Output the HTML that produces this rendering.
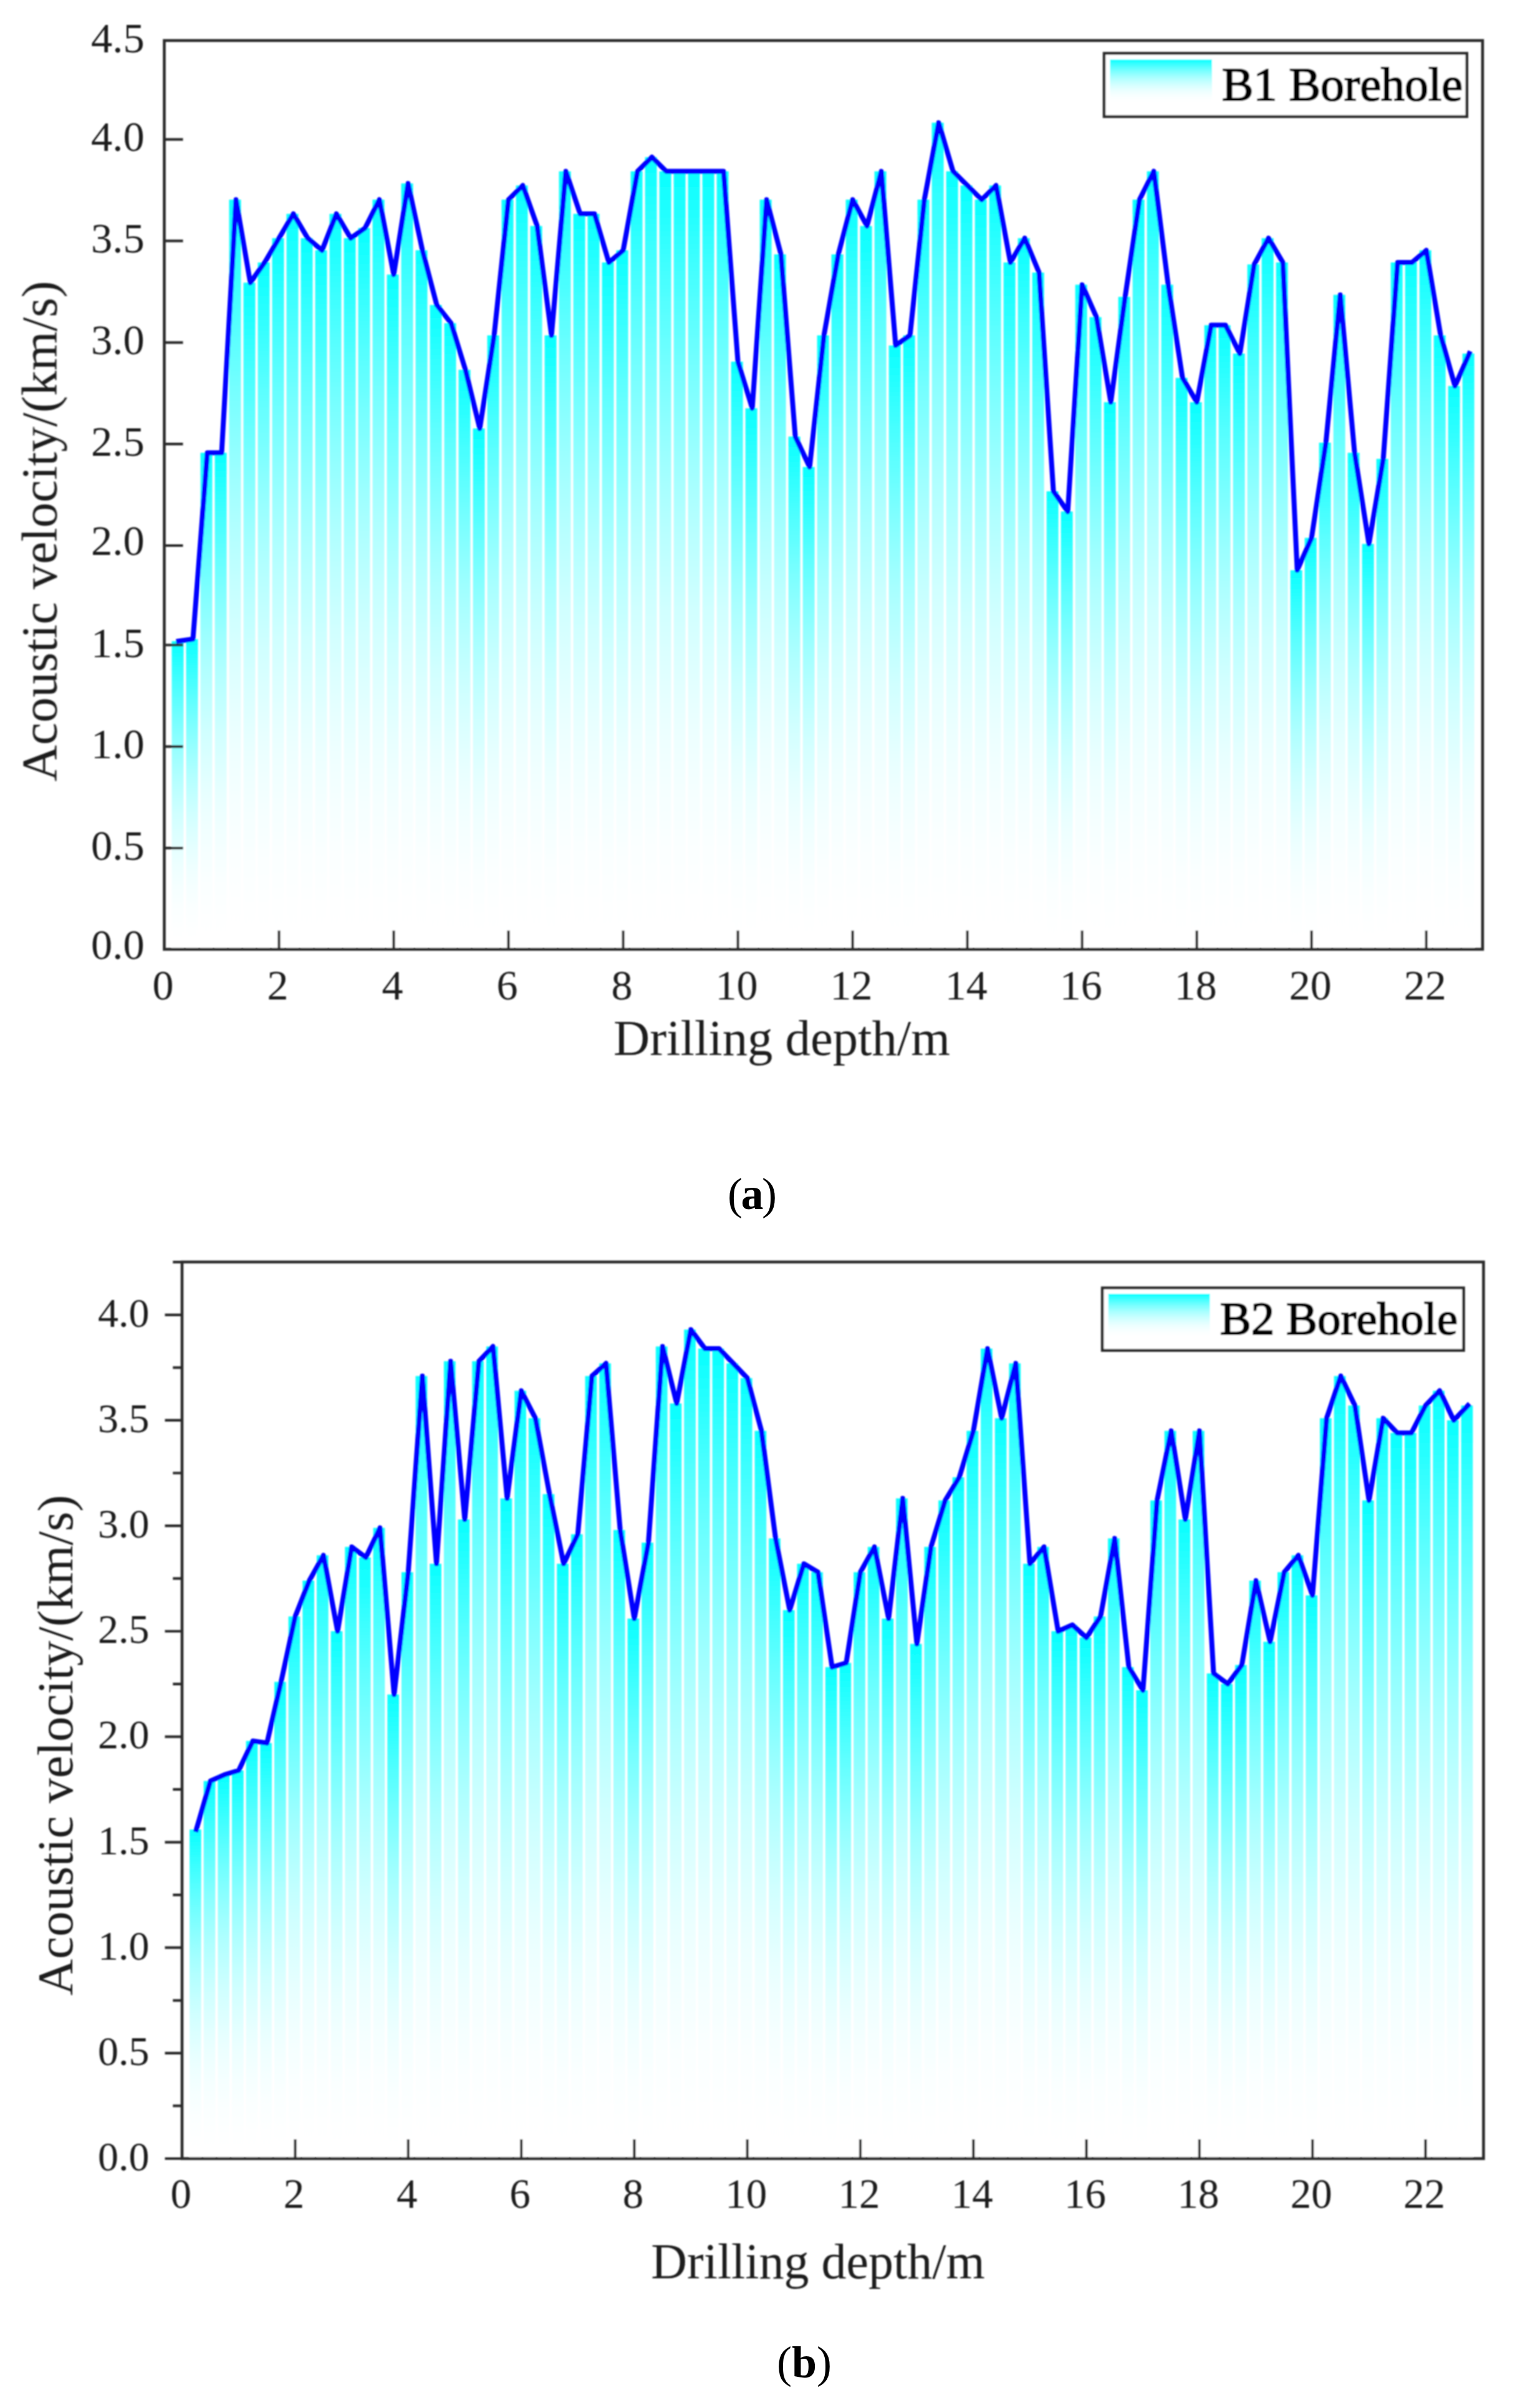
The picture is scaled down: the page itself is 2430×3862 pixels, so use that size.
<!DOCTYPE html>
<html lang="en">
<head>
<meta charset="utf-8">
<title>Acoustic velocity versus drilling depth</title>
<style>
html,body{margin:0;padding:0;background:#fff;}
body{width:2430px;height:3862px;overflow:hidden;}
svg{display:block;}
</style>
</head>
<body>
<svg width="2430" height="3862" viewBox="0 0 2430 3862">
<defs><linearGradient id="g" x1="0" y1="0" x2="0" y2="1"><stop offset="0.0000" stop-color="#08ffff"/><stop offset="0.0625" stop-color="#26ffff"/><stop offset="0.1250" stop-color="#42ffff"/><stop offset="0.1875" stop-color="#5cffff"/><stop offset="0.2500" stop-color="#74ffff"/><stop offset="0.3125" stop-color="#8affff"/><stop offset="0.3750" stop-color="#9fffff"/><stop offset="0.4375" stop-color="#b1ffff"/><stop offset="0.5000" stop-color="#c1ffff"/><stop offset="0.5625" stop-color="#d0ffff"/><stop offset="0.6250" stop-color="#dcffff"/><stop offset="0.6875" stop-color="#e7ffff"/><stop offset="0.7500" stop-color="#f0ffff"/><stop offset="0.8125" stop-color="#f6ffff"/><stop offset="0.8750" stop-color="#fbffff"/><stop offset="0.9375" stop-color="#feffff"/><stop offset="1.0000" stop-color="#ffffff"/></linearGradient><filter id="soft" x="-1%" y="-1%" width="102%" height="102%"><feGaussianBlur stdDeviation="1.15"/></filter></defs>
<rect width="2430" height="3862" fill="#fff"/>
<g id="chartA" filter="url(#soft)">
<g fill="url(#g)"><rect x="275.5" y="1028.3" width="19" height="493.7"/><rect x="298.5" y="1025.06" width="19" height="496.94"/><rect x="321.51" y="726.24" width="19" height="795.76"/><rect x="344.51" y="726.24" width="19" height="795.76"/><rect x="367.51" y="320.24" width="19" height="1201.76"/><rect x="390.51" y="453.41" width="19" height="1068.59"/><rect x="413.52" y="420.93" width="19" height="1101.07"/><rect x="436.52" y="381.95" width="19" height="1140.05"/><rect x="459.52" y="342.98" width="19" height="1179.02"/><rect x="482.52" y="381.95" width="19" height="1140.05"/><rect x="505.53" y="401.44" width="19" height="1120.56"/><rect x="528.53" y="342.98" width="19" height="1179.02"/><rect x="551.53" y="381.95" width="19" height="1140.05"/><rect x="574.54" y="365.71" width="19" height="1156.29"/><rect x="597.54" y="320.24" width="19" height="1201.76"/><rect x="620.54" y="440.42" width="19" height="1081.58"/><rect x="643.54" y="294.26" width="19" height="1227.74"/><rect x="666.55" y="401.44" width="19" height="1120.56"/><rect x="689.55" y="489.14" width="19" height="1032.86"/><rect x="712.55" y="518.37" width="19" height="1003.63"/><rect x="735.55" y="593.07" width="19" height="928.93"/><rect x="758.56" y="687.26" width="19" height="834.74"/><rect x="781.56" y="537.86" width="19" height="984.14"/><rect x="804.56" y="320.24" width="19" height="1201.76"/><rect x="827.56" y="297.5" width="19" height="1224.5"/><rect x="850.57" y="362.46" width="19" height="1159.54"/><rect x="873.57" y="537.86" width="19" height="984.14"/><rect x="896.57" y="274.77" width="19" height="1247.23"/><rect x="919.57" y="342.98" width="19" height="1179.02"/><rect x="942.58" y="342.98" width="19" height="1179.02"/><rect x="965.58" y="420.93" width="19" height="1101.07"/><rect x="988.58" y="401.44" width="19" height="1120.56"/><rect x="1011.58" y="274.77" width="19" height="1247.23"/><rect x="1034.59" y="252.03" width="19" height="1269.97"/><rect x="1057.59" y="274.77" width="19" height="1247.23"/><rect x="1080.59" y="274.77" width="19" height="1247.23"/><rect x="1103.59" y="274.77" width="19" height="1247.23"/><rect x="1126.6" y="274.77" width="19" height="1247.23"/><rect x="1149.6" y="274.77" width="19" height="1247.23"/><rect x="1172.6" y="580.08" width="19" height="941.92"/><rect x="1195.6" y="654.78" width="19" height="867.22"/><rect x="1218.61" y="320.24" width="19" height="1201.76"/><rect x="1241.61" y="407.94" width="19" height="1114.06"/><rect x="1264.61" y="700.26" width="19" height="821.74"/><rect x="1287.61" y="748.98" width="19" height="773.02"/><rect x="1310.62" y="537.86" width="19" height="984.14"/><rect x="1333.62" y="407.94" width="19" height="1114.06"/><rect x="1356.62" y="320.24" width="19" height="1201.76"/><rect x="1379.62" y="362.46" width="19" height="1159.54"/><rect x="1402.62" y="274.77" width="19" height="1247.23"/><rect x="1425.63" y="554.1" width="19" height="967.9"/><rect x="1448.63" y="537.86" width="19" height="984.14"/><rect x="1471.63" y="320.24" width="19" height="1201.76"/><rect x="1494.63" y="196.82" width="19" height="1325.18"/><rect x="1517.64" y="274.77" width="19" height="1247.23"/><rect x="1540.64" y="297.5" width="19" height="1224.5"/><rect x="1563.64" y="320.24" width="19" height="1201.76"/><rect x="1586.64" y="297.5" width="19" height="1224.5"/><rect x="1609.65" y="420.93" width="19" height="1101.07"/><rect x="1632.65" y="381.95" width="19" height="1140.05"/><rect x="1655.65" y="437.17" width="19" height="1084.83"/><rect x="1678.65" y="787.95" width="19" height="734.05"/><rect x="1701.66" y="820.43" width="19" height="701.57"/><rect x="1724.66" y="456.66" width="19" height="1065.34"/><rect x="1747.66" y="508.62" width="19" height="1013.38"/><rect x="1770.67" y="645.04" width="19" height="876.96"/><rect x="1793.67" y="476.14" width="19" height="1045.86"/><rect x="1816.67" y="320.24" width="19" height="1201.76"/><rect x="1839.67" y="274.77" width="19" height="1247.23"/><rect x="1862.68" y="456.66" width="19" height="1065.34"/><rect x="1885.68" y="606.06" width="19" height="915.94"/><rect x="1908.68" y="645.04" width="19" height="876.96"/><rect x="1931.68" y="521.62" width="19" height="1000.38"/><rect x="1954.69" y="521.62" width="19" height="1000.38"/><rect x="1977.69" y="567.09" width="19" height="954.91"/><rect x="2000.69" y="424.18" width="19" height="1097.82"/><rect x="2023.69" y="381.95" width="19" height="1140.05"/><rect x="2046.7" y="420.93" width="19" height="1101.07"/><rect x="2069.7" y="914.62" width="19" height="607.38"/><rect x="2092.7" y="862.66" width="19" height="659.34"/><rect x="2115.7" y="710" width="19" height="812"/><rect x="2138.7" y="472.9" width="19" height="1049.1"/><rect x="2161.71" y="726.24" width="19" height="795.76"/><rect x="2184.71" y="872.4" width="19" height="649.6"/><rect x="2207.71" y="735.98" width="19" height="786.02"/><rect x="2230.72" y="420.93" width="19" height="1101.07"/><rect x="2253.72" y="420.93" width="19" height="1101.07"/><rect x="2276.72" y="401.44" width="19" height="1120.56"/><rect x="2299.72" y="537.86" width="19" height="984.14"/><rect x="2322.72" y="619.06" width="19" height="902.94"/><rect x="2345.73" y="567.09" width="19" height="954.91"/></g><polyline points="286.5,1028.3 309.5,1025.06 332.51,726.24 355.51,726.24 378.51,320.24 401.51,453.41 424.52,420.93 447.52,381.95 470.52,342.98 493.52,381.95 516.53,401.44 539.53,342.98 562.53,381.95 585.54,365.71 608.54,320.24 631.54,440.42 654.54,294.26 677.55,401.44 700.55,489.14 723.55,518.37 746.55,593.07 769.56,687.26 792.56,537.86 815.56,320.24 838.56,297.5 861.57,362.46 884.57,537.86 907.57,274.77 930.57,342.98 953.58,342.98 976.58,420.93 999.58,401.44 1022.58,274.77 1045.59,252.03 1068.59,274.77 1091.59,274.77 1114.59,274.77 1137.6,274.77 1160.6,274.77 1183.6,580.08 1206.6,654.78 1229.61,320.24 1252.61,407.94 1275.61,700.26 1298.61,748.98 1321.62,537.86 1344.62,407.94 1367.62,320.24 1390.62,362.46 1413.62,274.77 1436.63,554.1 1459.63,537.86 1482.63,320.24 1505.63,196.82 1528.64,274.77 1551.64,297.5 1574.64,320.24 1597.64,297.5 1620.65,420.93 1643.65,381.95 1666.65,437.17 1689.65,787.95 1712.66,820.43 1735.66,456.66 1758.66,508.62 1781.67,645.04 1804.67,476.14 1827.67,320.24 1850.67,274.77 1873.68,456.66 1896.68,606.06 1919.68,645.04 1942.68,521.62 1965.69,521.62 1988.69,567.09 2011.69,424.18 2034.69,381.95 2057.7,420.93 2080.7,914.62 2103.7,862.66 2126.7,710 2149.7,472.9 2172.71,726.24 2195.71,872.4 2218.71,735.98 2241.72,420.93 2264.72,420.93 2287.72,401.44 2310.72,537.86 2333.72,619.06 2356.73,567.09" fill="none" stroke="#0000ff" stroke-width="8" stroke-linejoin="round" stroke-linecap="square"/>
<path d="M263.5 223.6h30M263.5 386.4h30M263.5 549.3h30M263.5 712.1h30M263.5 875h30M263.5 1034.5h30M263.5 1197.4h30M263.5 1360.2h30M447.52 1522.5v-30M631.54 1522.5v-30M815.56 1522.5v-30M999.58 1522.5v-30M1183.6 1522.5v-30M1367.62 1522.5v-30M1551.64 1522.5v-30M1735.66 1522.5v-30M1919.68 1522.5v-30M2103.7 1522.5v-30M2287.72 1522.5v-30" stroke="#2b2b2b" stroke-width="4.2" fill="none"/>
<rect x="263.5" y="65" width="2114.5" height="1457.5" fill="none" stroke="#2b2b2b" stroke-width="4.6"/>
<g font-family='"Liberation Serif", serif' font-size="68.5" fill="#1c1c1c" text-anchor="end">
<text x="231.7" y="83.5">4.5</text>
<text x="231.7" y="242.2">4.0</text>
<text x="231.7" y="405">3.5</text>
<text x="231.7" y="568.2">3.0</text>
<text x="231.7" y="731.1">2.5</text>
<text x="231.7" y="890.1">2.0</text>
<text x="231.7" y="1053.7">1.5</text>
<text x="231.7" y="1216">1.0</text>
<text x="231.7" y="1378.8">0.5</text>
<text x="231.7" y="1538.3">0.0</text>
</g>
<g font-family='"Liberation Serif", serif' font-size="68" fill="#1c1c1c" text-anchor="middle">
<text x="261.5" y="1602.5">0</text>
<text x="445.52" y="1602.5">2</text>
<text x="629.54" y="1602.5">4</text>
<text x="813.56" y="1602.5">6</text>
<text x="997.58" y="1602.5">8</text>
<text x="1181.6" y="1602.5">10</text>
<text x="1365.62" y="1602.5">12</text>
<text x="1549.64" y="1602.5">14</text>
<text x="1733.66" y="1602.5">16</text>
<text x="1917.68" y="1602.5">18</text>
<text x="2101.7" y="1602.5">20</text>
<text x="2285.72" y="1602.5">22</text>
</g>
<text font-family='"Liberation Serif", serif' font-size="80.7" fill="#1c1c1c" text-anchor="middle" x="1254" y="1691.5">Drilling depth/m</text>
<text font-family='"Liberation Serif", serif' font-size="81" fill="#1c1c1c" text-anchor="middle" transform="translate(90.5 851.9) rotate(-90)">Acoustic velocity/(km/s)</text>
<rect x="1771" y="85.5" width="581.8" height="101.5" fill="#fff" stroke="#2b2b2b" stroke-width="4.5"/>
<rect x="1780.5" y="95.5" width="163.5" height="70" fill="url(#g)"/>
<text font-family='"Liberation Serif", serif' font-size="76" fill="#000" stroke="#000" stroke-width="2" x="1959.7" y="161">B1 Borehole</text>
</g>
<g id="chartB" filter="url(#soft)">
<g fill="url(#g)"><rect x="304.01" y="2934.25" width="18.7" height="527.75"/><rect x="326.67" y="2856.44" width="18.7" height="605.56"/><rect x="349.34" y="2846.29" width="18.7" height="615.71"/><rect x="372" y="2839.53" width="18.7" height="622.47"/><rect x="394.66" y="2792.17" width="18.7" height="669.83"/><rect x="417.32" y="2795.55" width="18.7" height="666.45"/><rect x="439.99" y="2697.44" width="18.7" height="764.56"/><rect x="462.65" y="2592.57" width="18.7" height="869.43"/><rect x="485.31" y="2535.06" width="18.7" height="926.94"/><rect x="507.98" y="2494.46" width="18.7" height="967.54"/><rect x="530.64" y="2616.25" width="18.7" height="845.75"/><rect x="553.3" y="2480.93" width="18.7" height="981.07"/><rect x="575.96" y="2497.84" width="18.7" height="964.16"/><rect x="598.62" y="2450.48" width="18.7" height="1011.52"/><rect x="621.29" y="2717.74" width="18.7" height="744.26"/><rect x="643.95" y="2521.53" width="18.7" height="940.47"/><rect x="666.61" y="2206.91" width="18.7" height="1255.09"/><rect x="689.27" y="2507.99" width="18.7" height="954.01"/><rect x="711.94" y="2183.23" width="18.7" height="1278.77"/><rect x="734.6" y="2436.95" width="18.7" height="1025.05"/><rect x="757.26" y="2183.23" width="18.7" height="1278.77"/><rect x="779.93" y="2159.55" width="18.7" height="1302.45"/><rect x="802.59" y="2403.12" width="18.7" height="1058.88"/><rect x="825.25" y="2230.59" width="18.7" height="1231.41"/><rect x="847.91" y="2274.57" width="18.7" height="1187.43"/><rect x="870.57" y="2396.36" width="18.7" height="1065.64"/><rect x="893.24" y="2507.99" width="18.7" height="954.01"/><rect x="915.9" y="2460.63" width="18.7" height="1001.37"/><rect x="938.56" y="2206.91" width="18.7" height="1255.09"/><rect x="961.23" y="2186.61" width="18.7" height="1275.39"/><rect x="983.89" y="2453.87" width="18.7" height="1008.13"/><rect x="1006.55" y="2595.95" width="18.7" height="866.05"/><rect x="1029.21" y="2474.16" width="18.7" height="987.84"/><rect x="1051.88" y="2159.55" width="18.7" height="1302.45"/><rect x="1074.54" y="2250.89" width="18.7" height="1211.11"/><rect x="1097.2" y="2132.48" width="18.7" height="1329.52"/><rect x="1119.86" y="2162.93" width="18.7" height="1299.07"/><rect x="1142.53" y="2162.93" width="18.7" height="1299.07"/><rect x="1165.19" y="2186.61" width="18.7" height="1275.39"/><rect x="1187.85" y="2210.29" width="18.7" height="1251.71"/><rect x="1210.51" y="2294.86" width="18.7" height="1167.14"/><rect x="1233.18" y="2467.4" width="18.7" height="994.6"/><rect x="1255.84" y="2582.42" width="18.7" height="879.58"/><rect x="1278.5" y="2507.99" width="18.7" height="954.01"/><rect x="1301.16" y="2521.53" width="18.7" height="940.47"/><rect x="1323.83" y="2673.76" width="18.7" height="788.24"/><rect x="1346.49" y="2666.99" width="18.7" height="795.01"/><rect x="1369.15" y="2521.53" width="18.7" height="940.47"/><rect x="1391.81" y="2480.93" width="18.7" height="981.07"/><rect x="1414.48" y="2595.95" width="18.7" height="866.05"/><rect x="1437.14" y="2403.12" width="18.7" height="1058.88"/><rect x="1459.8" y="2636.55" width="18.7" height="825.45"/><rect x="1482.46" y="2480.93" width="18.7" height="981.07"/><rect x="1505.13" y="2406.5" width="18.7" height="1055.5"/><rect x="1527.79" y="2369.29" width="18.7" height="1092.71"/><rect x="1550.45" y="2294.86" width="18.7" height="1167.14"/><rect x="1573.11" y="2162.93" width="18.7" height="1299.07"/><rect x="1595.78" y="2274.57" width="18.7" height="1187.43"/><rect x="1618.44" y="2186.61" width="18.7" height="1275.39"/><rect x="1641.1" y="2507.99" width="18.7" height="954.01"/><rect x="1663.76" y="2480.93" width="18.7" height="981.07"/><rect x="1686.43" y="2616.25" width="18.7" height="845.75"/><rect x="1709.09" y="2606.1" width="18.7" height="855.9"/><rect x="1731.75" y="2626.4" width="18.7" height="835.6"/><rect x="1754.41" y="2592.57" width="18.7" height="869.43"/><rect x="1777.08" y="2467.4" width="18.7" height="994.6"/><rect x="1799.74" y="2673.76" width="18.7" height="788.24"/><rect x="1822.4" y="2710.97" width="18.7" height="751.03"/><rect x="1845.06" y="2406.5" width="18.7" height="1055.5"/><rect x="1867.73" y="2294.86" width="18.7" height="1167.14"/><rect x="1890.39" y="2436.95" width="18.7" height="1025.05"/><rect x="1913.05" y="2294.86" width="18.7" height="1167.14"/><rect x="1935.71" y="2683.91" width="18.7" height="778.09"/><rect x="1958.38" y="2700.82" width="18.7" height="761.18"/><rect x="1981.04" y="2670.38" width="18.7" height="791.62"/><rect x="2003.7" y="2535.06" width="18.7" height="926.94"/><rect x="2026.36" y="2633.16" width="18.7" height="828.84"/><rect x="2049.03" y="2521.53" width="18.7" height="940.47"/><rect x="2071.69" y="2494.46" width="18.7" height="967.54"/><rect x="2094.35" y="2558.74" width="18.7" height="903.26"/><rect x="2117.01" y="2274.57" width="18.7" height="1187.43"/><rect x="2139.68" y="2206.91" width="18.7" height="1255.09"/><rect x="2162.34" y="2254.27" width="18.7" height="1207.73"/><rect x="2185" y="2406.5" width="18.7" height="1055.5"/><rect x="2207.66" y="2274.57" width="18.7" height="1187.43"/><rect x="2230.33" y="2298.25" width="18.7" height="1163.75"/><rect x="2252.99" y="2298.25" width="18.7" height="1163.75"/><rect x="2275.65" y="2254.27" width="18.7" height="1207.73"/><rect x="2298.31" y="2230.59" width="18.7" height="1231.41"/><rect x="2320.98" y="2277.95" width="18.7" height="1184.05"/><rect x="2343.64" y="2254.27" width="18.7" height="1207.73"/></g><polyline points="314.86,2934.25 337.52,2856.44 360.19,2846.29 382.85,2839.53 405.51,2792.17 428.18,2795.55 450.84,2697.44 473.5,2592.57 496.16,2535.06 518.83,2494.46 541.49,2616.25 564.15,2480.93 586.81,2497.84 609.48,2450.48 632.14,2717.74 654.8,2521.53 677.46,2206.91 700.12,2507.99 722.79,2183.23 745.45,2436.95 768.11,2183.23 790.78,2159.55 813.44,2403.12 836.1,2230.59 858.76,2274.57 881.42,2396.36 904.09,2507.99 926.75,2460.63 949.41,2206.91 972.08,2186.61 994.74,2453.87 1017.4,2595.95 1040.06,2474.16 1062.73,2159.55 1085.39,2250.89 1108.05,2132.48 1130.71,2162.93 1153.38,2162.93 1176.04,2186.61 1198.7,2210.29 1221.36,2294.86 1244.03,2467.4 1266.69,2582.42 1289.35,2507.99 1312.01,2521.53 1334.68,2673.76 1357.34,2666.99 1380,2521.53 1402.66,2480.93 1425.33,2595.95 1447.99,2403.12 1470.65,2636.55 1493.31,2480.93 1515.98,2406.5 1538.64,2369.29 1561.3,2294.86 1583.96,2162.93 1606.63,2274.57 1629.29,2186.61 1651.95,2507.99 1674.61,2480.93 1697.28,2616.25 1719.94,2606.1 1742.6,2626.4 1765.26,2592.57 1787.93,2467.4 1810.59,2673.76 1833.25,2710.97 1855.91,2406.5 1878.58,2294.86 1901.24,2436.95 1923.9,2294.86 1946.56,2683.91 1969.23,2700.82 1991.89,2670.38 2014.55,2535.06 2037.21,2633.16 2059.88,2521.53 2082.54,2494.46 2105.2,2558.74 2127.86,2274.57 2150.53,2206.91 2173.19,2254.27 2195.85,2406.5 2218.51,2274.57 2241.18,2298.25 2263.84,2298.25 2286.5,2254.27 2309.16,2230.59 2331.83,2277.95 2354.49,2254.27" fill="none" stroke="#0000ff" stroke-width="8" stroke-linejoin="round" stroke-linecap="square"/>
<path d="M292 3462h-27.5M292 3377.43h-14.7M292 3292.85h-27.5M292 3208.28h-14.7M292 3123.7h-27.5M292 3039.12h-14.7M292 2954.55h-27.5M292 2869.97h-14.7M292 2785.4h-27.5M292 2700.82h-14.7M292 2616.25h-27.5M292 2531.68h-14.7M292 2447.1h-27.5M292 2362.52h-14.7M292 2277.95h-27.5M292 2193.38h-14.7M292 2108.8h-27.5M292 2024.22h-14.7M473.5 3462v-31M654.8 3462v-31M836.1 3462v-31M1017.4 3462v-31M1198.7 3462v-31M1380 3462v-31M1561.3 3462v-31M1742.6 3462v-31M1923.9 3462v-31M2105.2 3462v-31M2286.5 3462v-31" stroke="#2b2b2b" stroke-width="4.2" fill="none"/>
<rect x="292" y="2024" width="2087.5" height="1438" fill="none" stroke="#2b2b2b" stroke-width="4.6"/>
<g font-family='"Liberation Serif", serif' font-size="66" fill="#1c1c1c" text-anchor="end">
<text x="239.5" y="3481">0.0</text>
<text x="239.5" y="3311.85">0.5</text>
<text x="239.5" y="3142.7">1.0</text>
<text x="239.5" y="2973.55">1.5</text>
<text x="239.5" y="2804.4">2.0</text>
<text x="239.5" y="2635.25">2.5</text>
<text x="239.5" y="2466.1">3.0</text>
<text x="239.5" y="2296.95">3.5</text>
<text x="239.5" y="2127.8">4.0</text>
</g>
<g font-family='"Liberation Serif", serif' font-size="67" fill="#1c1c1c" text-anchor="middle">
<text x="290.2" y="3541">0</text>
<text x="471.5" y="3541">2</text>
<text x="652.8" y="3541">4</text>
<text x="834.1" y="3541">6</text>
<text x="1015.4" y="3541">8</text>
<text x="1196.7" y="3541">10</text>
<text x="1378" y="3541">12</text>
<text x="1559.3" y="3541">14</text>
<text x="1740.6" y="3541">16</text>
<text x="1921.9" y="3541">18</text>
<text x="2103.2" y="3541">20</text>
<text x="2284.5" y="3541">22</text>
</g>
<text font-family='"Liberation Serif", serif' font-size="80" fill="#1c1c1c" text-anchor="middle" x="1312" y="3653.5">Drilling depth/m</text>
<text font-family='"Liberation Serif", serif' font-size="81" fill="#1c1c1c" text-anchor="middle" transform="translate(116 2799) rotate(-90)">Acoustic velocity/(km/s)</text>
<rect x="1768.1" y="2065.6" width="579.5" height="100.2" fill="#fff" stroke="#2b2b2b" stroke-width="4.5"/>
<rect x="1777.7" y="2075" width="162.8" height="71" fill="url(#g)"/>
<text font-family='"Liberation Serif", serif' font-size="75" fill="#000" stroke="#000" stroke-width="2" x="1956.8" y="2140">B2 Borehole</text>
</g>
<text font-family='"Liberation Serif", serif' font-size="72" fill="#000" text-anchor="middle" x="1206.5" y="1939">(<tspan font-weight="bold" dx="-2.5">a</tspan><tspan dx="-2.5">)</tspan></text>
<text font-family='"Liberation Serif", serif' font-size="72" fill="#000" text-anchor="middle" x="1290" y="3813">(<tspan font-weight="bold">b</tspan>)</text>
</svg>
</body>
</html>
